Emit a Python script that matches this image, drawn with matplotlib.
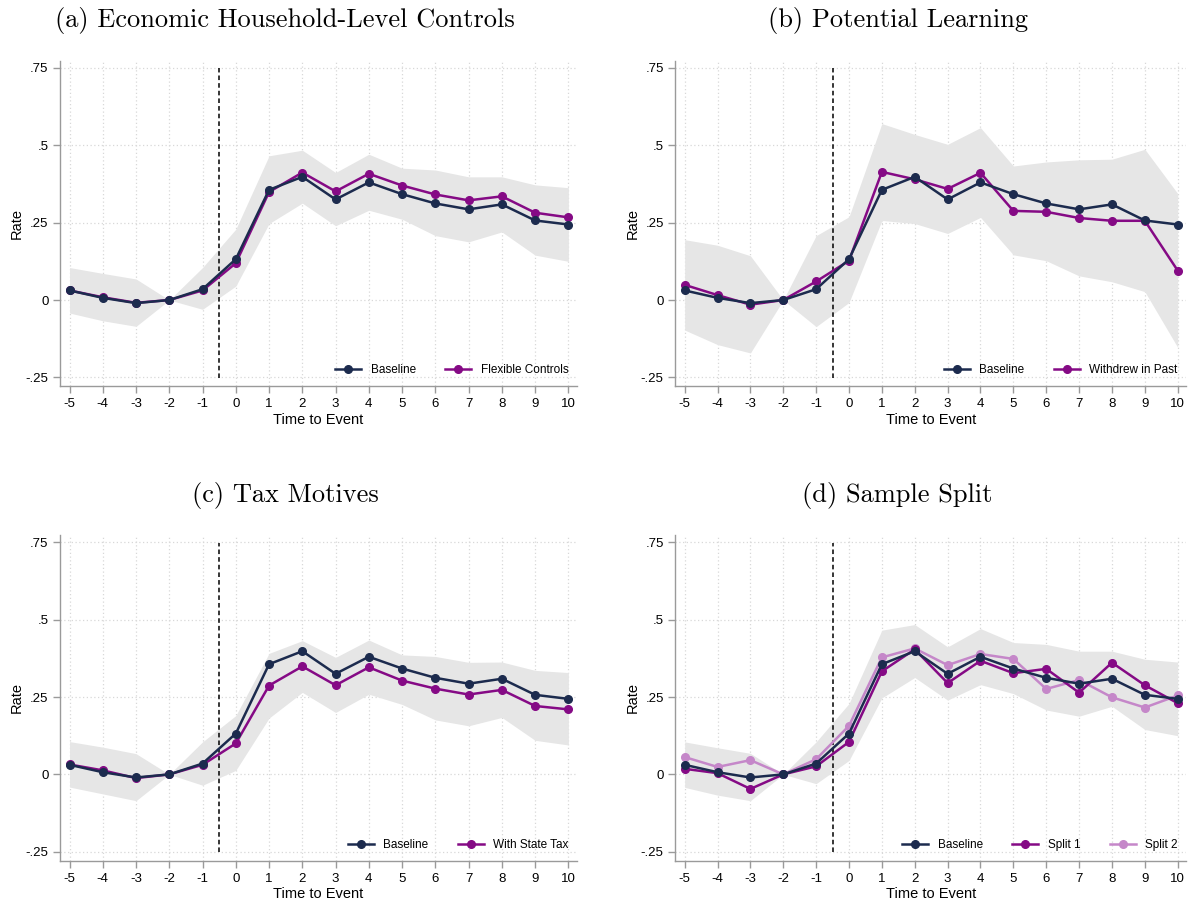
import matplotlib.pyplot as plt

t = list(range(-5, 11))

baseline = [0.031, 0.007, -0.010, 0.0, 0.035, 0.132, 0.356, 0.398, 0.325, 0.380,
            0.342, 0.312, 0.293, 0.309, 0.257, 0.244]

# (a) flexible controls
flexible = [0.031, 0.009, -0.009, 0.0, 0.031, 0.119, 0.349, 0.412, 0.351, 0.408,
            0.370, 0.341, 0.322, 0.335, 0.282, 0.267]
ci_a_hi = [0.105, 0.086, 0.068, 0.0, 0.105, 0.229, 0.466, 0.484, 0.412, 0.471,
           0.426, 0.420, 0.398, 0.398, 0.372, 0.363]
ci_a_lo = [-0.042, -0.067, -0.085, 0.0, -0.030, 0.045, 0.247, 0.313, 0.240, 0.290,
           0.261, 0.208, 0.188, 0.220, 0.145, 0.125]

# (b) withdrew in past
withdrew = [0.049, 0.016, -0.015, 0.0, 0.060, 0.127, 0.414, 0.390, 0.359, 0.411,
            0.288, 0.285, 0.265, 0.256, 0.256, 0.095]
ci_b_hi = [0.195, 0.177, 0.143, 0.0, 0.208, 0.269, 0.570, 0.535, 0.503, 0.557,
           0.433, 0.446, 0.453, 0.455, 0.487, 0.344]
ci_b_lo = [-0.097, -0.144, -0.171, 0.0, -0.086, -0.008, 0.257, 0.247, 0.215, 0.267,
           0.146, 0.127, 0.078, 0.059, 0.027, -0.153]

# (c) with state tax
statetax = [0.032, 0.013, -0.012, 0.0, 0.031, 0.100, 0.287, 0.349, 0.288, 0.346,
            0.303, 0.277, 0.258, 0.273, 0.221, 0.210]
ci_c_hi = [0.106, 0.088, 0.067, 0.0, 0.105, 0.190, 0.391, 0.432, 0.378, 0.434,
           0.386, 0.381, 0.362, 0.363, 0.336, 0.329]
ci_c_lo = [-0.041, -0.063, -0.085, 0.0, -0.035, 0.013, 0.182, 0.265, 0.200, 0.259,
           0.226, 0.176, 0.157, 0.184, 0.110, 0.095]

# (d) sample split
split1 = [0.018, 0.004, -0.047, 0.0, 0.026, 0.105, 0.333, 0.404, 0.295, 0.367,
          0.327, 0.341, 0.264, 0.361, 0.288, 0.230]
split2 = [0.056, 0.024, 0.046, 0.0, 0.049, 0.157, 0.378, 0.407, 0.353, 0.389,
          0.373, 0.276, 0.305, 0.249, 0.216, 0.255]

yticks = [-0.25, 0, 0.25, 0.5, 0.75]
ylabels = ['-.25', '0', '.25', '.5', '.75']

navy = '#1c2b4e'
purple = '#850a85'
lilac = '#c587c9'

plt.rcParams['font.family'] = ['Liberation Sans', 'DejaVu Sans']

fig = plt.figure(figsize=(12.04, 9.07), dpi=100)

boxes = [
    [0.050, 0.574, 0.429, 0.359],
    [0.561, 0.574, 0.424, 0.359],
    [0.050, 0.051, 0.429, 0.359],
    [0.561, 0.051, 0.424, 0.359],
]
titles = ['(a) Economic Household-Level Controls', '(b) Potential Learning',
          '(c) Tax Motives', '(d) Sample Split']
panels = [
    (ci_a_lo, ci_a_hi, [(flexible, purple, 'Flexible Controls')]),
    (ci_b_lo, ci_b_hi, [(withdrew, purple, 'Withdrew in Past')]),
    (ci_c_lo, ci_c_hi, [(statetax, purple, 'With State Tax')]),
    (ci_a_lo, ci_a_hi, [(split1, purple, 'Split 1'), (split2, lilac, 'Split 2')]),
]

for box, title, (lo, hi, others) in zip(boxes, titles, panels):
    ax = fig.add_axes(box)
    ax.fill_between(t, lo, hi, color='#e6e6e6', lw=0, zorder=1)
    ax.axvline(-0.5, ymin=0.027, ymax=0.977, color='black', ls=(0, (3, 2)), lw=1.1, zorder=2)
    ax.plot(t, baseline, color=navy, marker='o', ms=5.5, lw=1.8, label='Baseline', zorder=4)
    z = 3
    for vals, col, lab in others:
        ax.plot(t, vals, color=col, marker='o', ms=5.5, lw=1.8, label=lab, zorder=z)
        z -= 0.1

    ax.set_xlim(-5.28, 10.25)
    ax.set_ylim(-0.279, 0.773)
    ax.set_xticks(t)
    ax.set_xticklabels([str(v) for v in t])
    ax.set_yticks(yticks)
    ax.set_yticklabels(ylabels)
    ax.grid(True, color='#d8d8d8', ls=(0, (1, 2)), lw=0.9)
    ax.set_axisbelow(True)
    for s in ['top', 'right']:
        ax.spines[s].set_visible(False)
    for s in ['left', 'bottom']:
        ax.spines[s].set_color('#9a9a9a')
        ax.spines[s].set_linewidth(1.0)
    ax.tick_params(colors='#9a9a9a', labelcolor='black', labelsize=9.5, length=5, width=1)
    ax.set_xlabel('Time to Event', fontsize=10.5, labelpad=2)
    ax.set_ylabel('Rate', fontsize=10.5, labelpad=1)
    ax.set_title(title, family='cmr10', fontsize=19, pad=24, x=0.435)
    ax.legend(loc='lower right', ncol=len(others) + 1, frameon=False, fontsize=8.5,
              handlelength=2.2, columnspacing=2.5, borderaxespad=0.3, bbox_to_anchor=(1.0, 0.005))

fig.savefig('out.png', dpi=100)
